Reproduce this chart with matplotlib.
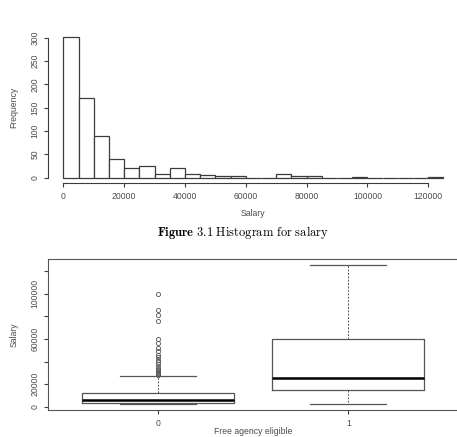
import numpy as np
import matplotlib.pyplot as plt

plt.rcParams['font.family'] = ['Liberation Sans', 'DejaVu Sans']
plt.rcParams['mathtext.fontset'] = 'cm'

# histogram of salary, 5000 wide bins
bin_edges = list(range(0, 130000, 5000))
freq = [301, 171, 89, 39, 20, 24, 7, 20, 7, 5, 3, 3, 0, 0, 8, 3, 3, 0, 0, 1, 0, 0, 0, 0, 1]

# boxplot stats by free agency eligibility
groups = ['0', '1']
whis_lo = [2500, 2500]
q1 = [3300, 15000]
med = [6200, 25300]
q3 = [12600, 60200]
whis_hi = [27300, 125000]
outliers_0 = [100000, 85500, 81000, 75500, 60000, 56000, 52000, 49500, 46000, 44000,
              41500, 40000, 37500, 35000, 33500, 32500, 31000, 30000, 29000, 28200]

line_c = '#3c3c3c'
text_c = '#4a4a4a'
fs = 6.2

W, H = 457, 437
fig = plt.figure(figsize=(W / 100, H / 100), dpi=100)


def px_axes(left, top, right, bottom):
    return fig.add_axes([left / W, 1 - bottom / H, (right - left) / W, (bottom - top) / H])


# ---- histogram ----
ax = px_axes(48.1, 31.6, 458.7, 183.3)
ax.bar(bin_edges[:-1], freq, width=5000, align='edge', color='white',
       edgecolor=line_c, linewidth=0.9)
ax.set_xlim(-5000, 130000)
ax.set_ylim(-12, 313)
for s in ['top', 'right']:
    ax.spines[s].set_visible(False)
ax.spines['left'].set_bounds(0, 300)
ax.spines['bottom'].set_bounds(0, 120000)
for s in ['left', 'bottom']:
    ax.spines[s].set_color(line_c)
    ax.spines[s].set_linewidth(0.8)
ax.set_xticks(range(0, 120001, 20000))
ax.set_yticks(range(0, 301, 50))
ax.tick_params(colors=line_c, labelcolor=text_c, labelsize=fs, length=3, width=0.8, pad=3)
for t in ax.get_yticklabels():
    t.set_rotation(90)
    t.set_va('center')
ax.set_xlabel('Salary', fontsize=fs, color=text_c, labelpad=6)
ax.set_ylabel('Frequency', fontsize=fs, color=text_c, labelpad=9)

fig.text(243 / W, 1 - 232.7 / H,
         r'$\mathbf{Figure\ 3.1}\ \mathrm{Histogram\ for\ salary}$',
         ha='center', va='center', fontsize=9)

# ---- boxplot ----
bx = px_axes(48.1, 259, 458.5, 410.3)
stats = []
for i, g in enumerate(groups):
    stats.append(dict(label=g, whislo=whis_lo[i], q1=q1[i], med=med[i], q3=q3[i],
                      whishi=whis_hi[i], fliers=outliers_0 if i == 0 else []))
bx.bxp(stats, positions=[0, 1], widths=0.8, capwidths=0.4,
       boxprops=dict(color='#555555', linewidth=0.9),
       medianprops=dict(color='black', linewidth=1.8),
       whiskerprops=dict(color='#555555', linewidth=0.7, linestyle=(0, (2, 1.5))),
       capprops=dict(color='#555555', linewidth=0.9),
       flierprops=dict(marker='o', markersize=3, markerfacecolor='none',
                       markeredgecolor='#555555', markeredgewidth=0.6))
bx.set_xlim(-0.58, 1.58)
bx.set_ylim(-2900, 130400)
bx.set_yticks(range(0, 120001, 20000))
bx.set_yticklabels(['0', '20000', '', '60000', '', '100000', ''])
for t in bx.get_yticklabels():
    t.set_rotation(90)
    t.set_va('center')
for s in bx.spines.values():
    s.set_color('#555555')
    s.set_linewidth(0.8)
bx.tick_params(colors=line_c, labelcolor=text_c, labelsize=fs, length=3, width=0.8, pad=3)
bx.set_ylabel('Salary', fontsize=fs, color=text_c, labelpad=9)
# x label sits at the very bottom edge of the page
fig.text(253 / W, 1 / H, 'Free agency eligible', fontsize=fs, color=text_c,
         ha='center', va='bottom')

fig.savefig('out.png', dpi=100)
